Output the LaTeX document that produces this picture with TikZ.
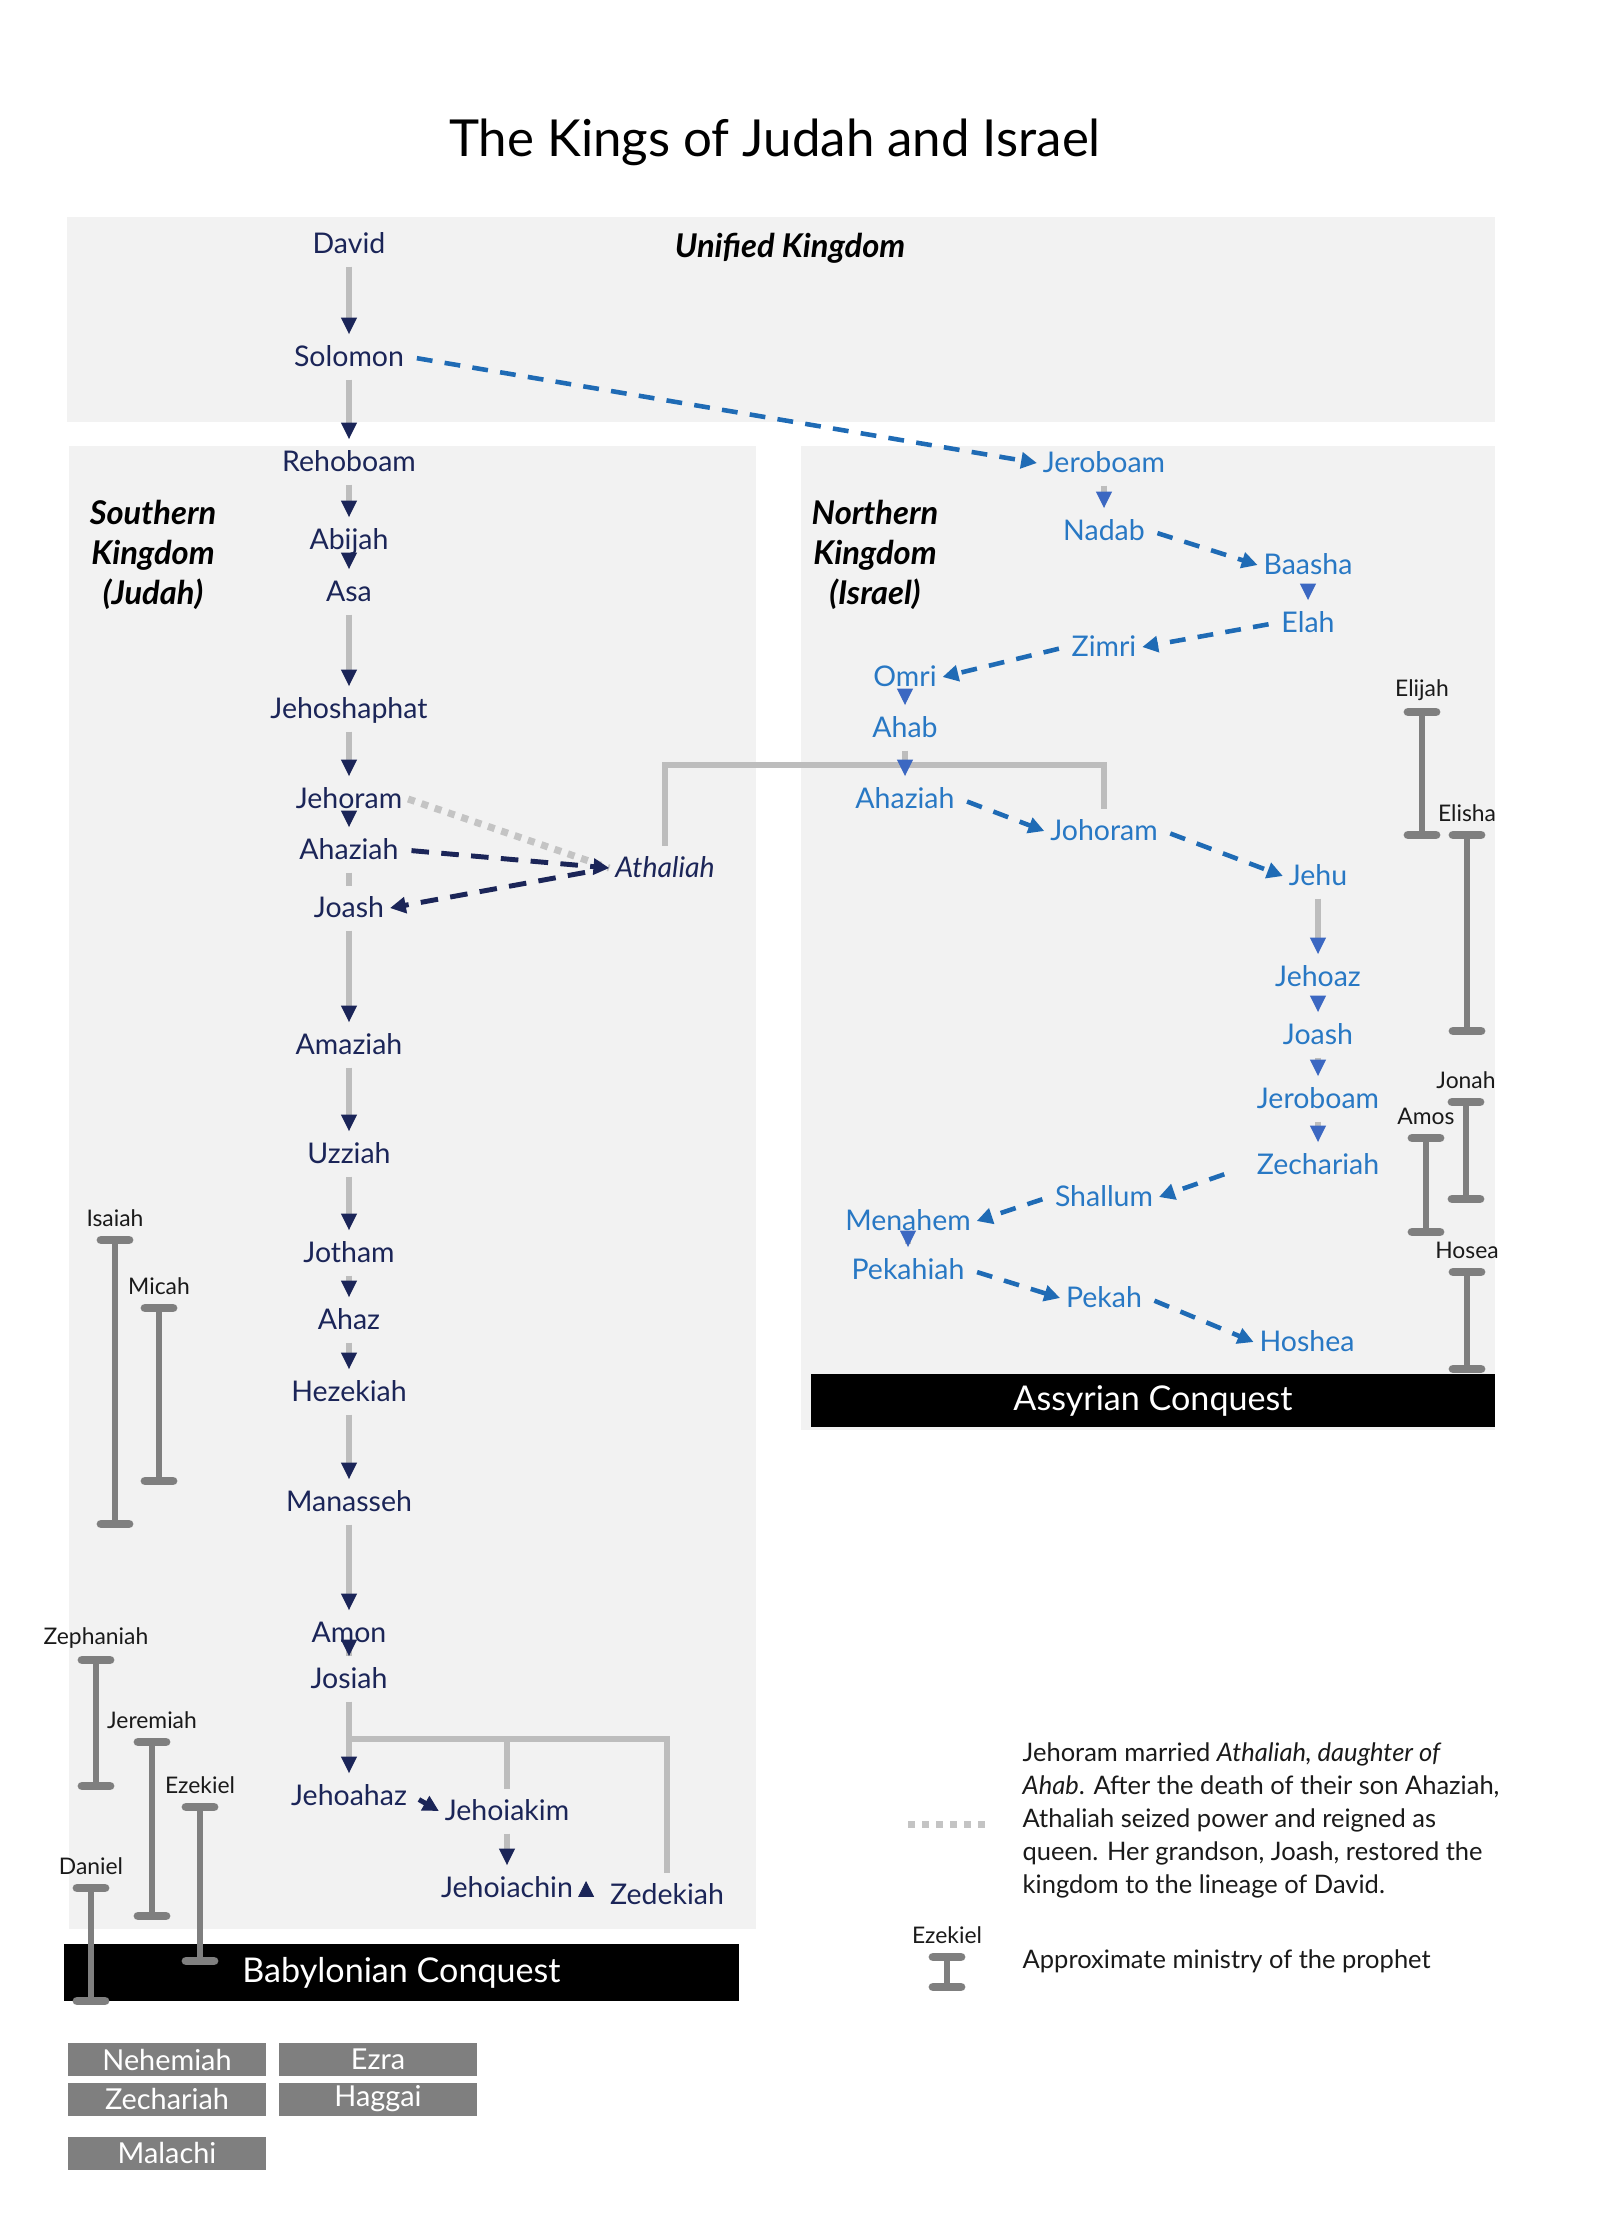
\documentclass[tikz,border=0pt]{standalone}
\usepackage{fontspec}
\setmainfont{Lato}
\usetikzlibrary{arrows.meta,calc}
\definecolor{navy}{HTML}{1B2558}
\definecolor{iblue}{HTML}{2878C4}
\definecolor{dblue}{HTML}{1F6BB5}
\definecolor{tblue}{HTML}{3C68C2}
\definecolor{shaftgrey}{HTML}{BDBDBD}
\definecolor{bargrey}{HTML}{7F7F7F}
\definecolor{panel}{HTML}{F2F2F2}
\definecolor{dotgrey}{HTML}{C4C4C4}
\definecolor{ink}{HTML}{1A1A1A}
\newcommand{\prophetbar}[5]{%
  \node[proph] (#1) at (#3,#4-22) {#2};
  \draw[pbar] (#3,#4) -- (#3,#5);
  \draw[pcap] (#3-14,#4) -- (#3+14,#4);
  \draw[pcap] (#3-14,#5) -- (#3+14,#5);
}
\begin{document}
\begin{tikzpicture}[x=0.01cm,y=-0.01cm,
  nm/.style={font=\fontsize{8.1}{9.6}\selectfont, inner sep=1.5pt, text height=0.74em, text depth=0.2em},
  jn/.style={nm, text=navy},
  isr/.style={nm, text=iblue},
  region/.style={font=\fontsize{9.3}{11.4}\selectfont\bfseries\itshape, align=center, text=black},
  proph/.style={font=\fontsize{6.5}{7.5}\selectfont, text=ink, inner sep=0pt},
  pbar/.style={draw=bargrey, line width=1.7pt},
  pcap/.style={draw=bargrey, line width=2.5pt, line cap=round},
  shaft/.style={draw=shaftgrey, line width=1.5pt},
  jtip/.style={shaft, -{Triangle[width=4.2pt,length=4.8pt,color=navy]}},
  itip/.style={shaft, -{Triangle[width=4.2pt,length=4.8pt,color=tblue]}},
  branch/.style={draw=shaftgrey, line width=1.8pt},
  jdash/.style={draw=navy, line width=1.4pt, dash pattern=on 5pt off 3.5pt, shorten <=2pt, -{Triangle[width=4.5pt,length=4.5pt]}},
  idash/.style={draw=dblue, line width=1.3pt, dash pattern=on 4.5pt off 3.5pt, shorten <=2pt, -{Triangle[width=4.5pt,length=4.5pt]}},
  dotline/.style={draw=dotgrey, line width=2pt, dash pattern=on 2pt off 2pt},
  conq/.style={fill=black, text=white, font=\fontsize{9.7}{11}\selectfont, inner sep=0pt},
  later/.style={fill=bargrey, text=white, font=\fontsize{8.2}{10}\selectfont, minimum width=1.98cm, minimum height=0.33cm, inner sep=0pt},
  legend/.style={font=\fontsize{7.25}{9.4}\selectfont, text=ink, inner sep=0pt}
]
\useasboundingbox (0,0) rectangle (1596,2220);
\fill[white] (0,0) rectangle (1596,2220);

% title
\node[font=\fontsize{14.5}{17}\selectfont, text=black] (title) at (775,142) {The Kings of Judah and Israel};

% panels
\fill[panel] (67,217) rectangle (1495,422);
\fill[panel] (69,446) rectangle (756,1929);
\fill[panel] (801,446) rectangle (1495,1430);

% region labels
\node[region] (unified) at (790,248) {Unified Kingdom};
\node[region] (south) at (153,555) {Southern\\Kingdom\\(Judah)};
\node[region] (north) at (875,555) {Northern\\Kingdom\\(Israel)};

% conquest bars
\node[conq, minimum width=6.84cm, minimum height=0.53cm] (assyr) at (1153,1400.5) {Assyrian Conquest};
\node[conq, minimum width=6.75cm, minimum height=0.57cm] (babyl) at (401.5,1972.5) {Babylonian Conquest};

% Judah
\node[jn] (david) at (349,244) {David};
\node[jn] (solomon) at (349,357) {Solomon};
\node[jn] (rehoboam) at (349,462) {Rehoboam};
\node[jn] (abijah) at (349,540) {Abijah};
\node[jn] (asa) at (349,592) {Asa};
\node[jn] (jehoshaphat) at (349,709) {Jehoshaphat};
\node[jn] (jehoram) at (349,799) {Jehoram};
\node[jn] (ahaziahJ) at (349,850) {Ahaziah};
\node[jn] (joashJ) at (349,908) {Joash};
\node[jn] (amaziah) at (349,1045) {Amaziah};
\node[jn] (uzziah) at (349,1154) {Uzziah};
\node[jn] (jotham) at (349,1253) {Jotham};
\node[jn] (ahaz) at (349,1320) {Ahaz};
\node[jn] (hezekiah) at (349,1392) {Hezekiah};
\node[jn] (manasseh) at (349,1502) {Manasseh};
\node[jn] (amon) at (349,1633) {Amon};
\node[jn] (josiah) at (349,1679) {Josiah};
\node[jn] (jehoahaz) at (349,1796) {Jehoahaz};
\node[jn] (jehoiakim) at (507,1811) {Jehoiakim};
\node[jn] (jehoiachin) at (507,1888) {Jehoiachin};
\node[jn] (zedekiah) at (667,1895) {Zedekiah};
\node[jn, font=\fontsize{8.1}{9.6}\selectfont\itshape] (athaliah) at (665,868) {Athaliah};

% Israel
\node[isr] (jeroboamI) at (1104,463) {Jeroboam};
\node[isr] (nadab) at (1104,531) {Nadab};
\node[isr] (baasha) at (1308,565) {Baasha};
\node[isr] (elah) at (1308,623) {Elah};
\node[isr] (zimri) at (1104,647) {Zimri};
\node[isr] (omri) at (905,677) {Omri};
\node[isr] (ahab) at (905,728) {Ahab};
\node[isr] (ahaziahI) at (905,799) {Ahaziah};
\node[isr] (johoram) at (1104,831) {Johoram};
\node[isr] (jehu) at (1318,876) {Jehu};
\node[isr] (jehoaz) at (1318,977) {Jehoaz};
\node[isr] (joashI) at (1318,1035) {Joash};
\node[isr] (jeroboamII) at (1318,1099) {Jeroboam};
\node[isr] (zechariah) at (1318,1165) {Zechariah};
\node[isr] (shallum) at (1104,1197) {Shallum};
\node[isr] (menahem) at (908,1221) {Menahem};
\node[isr] (pekahiah) at (908,1270) {Pekahiah};
\node[isr] (pekah) at (1104,1298) {Pekah};
\node[isr] (hoshea) at (1307,1342) {Hoshea};

% branch brackets
\coordinate (ahabbar) at (905,765);
\draw[branch] (athaliah.north) |- (johoram.north |- ahabbar) -- (johoram.north);
\coordinate (josbar) at (349,1739);
\draw[branch] (josbar) -| (zedekiah.north);
\draw[branch] (jehoiakim.north) -- (jehoiakim.north |- josbar);

% Judah succession
\draw[jtip] (david.south) -- (solomon.north);
\draw[jtip] (solomon.south) -- (rehoboam.north);
\draw[jtip] (rehoboam.south) -- (abijah.north);
\draw[jtip] (abijah.south) -- (asa.north);
\draw[jtip] (asa.south) -- (jehoshaphat.north);
\draw[jtip] (jehoshaphat.south) -- (jehoram.north);
\draw[jtip] (jehoram.south) -- (ahaziahJ.north);
\draw[shaft] (ahaziahJ.south) -- (joashJ.north);
\draw[jtip] (joashJ.south) -- (amaziah.north);
\draw[jtip] (amaziah.south) -- (uzziah.north);
\draw[jtip] (uzziah.south) -- (jotham.north);
\draw[jtip] (jotham.south) -- (ahaz.north);
\draw[jtip] (ahaz.south) -- (hezekiah.north);
\draw[jtip] (hezekiah.south) -- (manasseh.north);
\draw[jtip] (manasseh.south) -- (amon.north);
\draw[jtip] (amon.south) -- (josiah.north);
\draw[jtip] (josiah.south) -- (jehoahaz.north);
\draw[jtip] (jehoiakim.south) -- (jehoiachin.north);
\draw[draw=navy, line width=1.4pt, shorten <=2pt, -{Triangle[width=4.5pt,length=4.5pt]}] (jehoahaz.east) -- (jehoiakim.west);
\draw[draw=navy, line width=0.2pt, -{Triangle[width=4.5pt,length=4.5pt]}] ($(zedekiah.west)+(-18,-4)$) -- ($(zedekiah.west)+(-18,-14)$);

% Athaliah
\draw[dotline] (jehoram.east) -- (athaliah.west);
\draw[jdash] (ahaziahJ.east) -- (athaliah.west);
\draw[jdash, shorten <=7pt] (athaliah.west) -- (joashJ.east);

% Israel succession
\draw[idash] (solomon.east) -- (jeroboamI.west);
\draw[itip] (jeroboamI.south) -- (nadab.north);
\draw[idash] (nadab.east) -- (baasha.west);
\draw[itip] (baasha.south) -- (elah.north);
\draw[idash] (elah.west) -- (zimri.east);
\draw[idash] (zimri.west) -- (omri.east);
\draw[itip] (omri.south) -- (ahab.north);
\draw[itip] (ahab.south) -- (ahaziahI.north);
\draw[idash] (ahaziahI.east) -- (johoram.west);
\draw[idash] (johoram.east) -- (jehu.west);
\draw[itip] (jehu.south) -- (jehoaz.north);
\draw[itip] (jehoaz.south) -- (joashI.north);
\draw[itip] (joashI.south) -- (jeroboamII.north);
\draw[itip] (jeroboamII.south) -- (zechariah.north);
\draw[idash, shorten <=8pt] (zechariah.west) -- (shallum.east);
\draw[idash] (shallum.west) -- (menahem.east);
\draw[itip] (menahem.south) -- (pekahiah.north);
\draw[idash] (pekahiah.east) -- (pekah.west);
\draw[idash] (pekah.east) -- (hoshea.west);

% prophets
\prophetbar{elijah}{Elijah}{1422}{712}{835}
\prophetbar{elisha}{Elisha}{1467}{835}{1031}
\prophetbar{jonah}{Jonah}{1466}{1102}{1199}
\prophetbar{amos}{Amos}{1426}{1138}{1232}
\prophetbar{hosea}{Hosea}{1467}{1272}{1369}
\prophetbar{isaiah}{Isaiah}{115}{1240}{1524}
\prophetbar{micah}{Micah}{159}{1308}{1481}
\prophetbar{zephaniah}{Zephaniah}{96}{1660}{1786}
\prophetbar{jeremiah}{Jeremiah}{152}{1742}{1916}
\prophetbar{ezekiel}{Ezekiel}{200}{1807}{1961}
\prophetbar{daniel}{Daniel}{91}{1888}{2001}

% later prophets
\node[later] (nehemiah) at (167,2059.5) {Nehemiah};
\node[later] (ezra) at (378,2059.5) {Ezra};
\node[later] (zechariahP) at (167,2099) {Zechariah};
\node[later] (haggai) at (378,2099) {Haggai};
\node[later] (malachi) at (167,2153) {Malachi};

% legend
\coordinate (ld1) at (908,1824);
\coordinate (ld2) at (991,1824);
\draw[dotline] (ld1) -- (ld2);
\node[legend, anchor=north west, align=left] (legtext) at (1022,1742) {Jehoram married \textit{Athaliah, daughter of}\\\textit{Ahab}. After the death of their son Ahaziah,\\Athaliah seized power and reigned as\\queen. Her grandson, Joash, restored the\\kingdom to the lineage of David.};
\prophetbar{legez}{Ezekiel}{947}{1957}{1987}
\node[legend, anchor=west] (legbar) at (1022,1961) {Approximate ministry of the prophet};
\end{tikzpicture}
\end{document}
